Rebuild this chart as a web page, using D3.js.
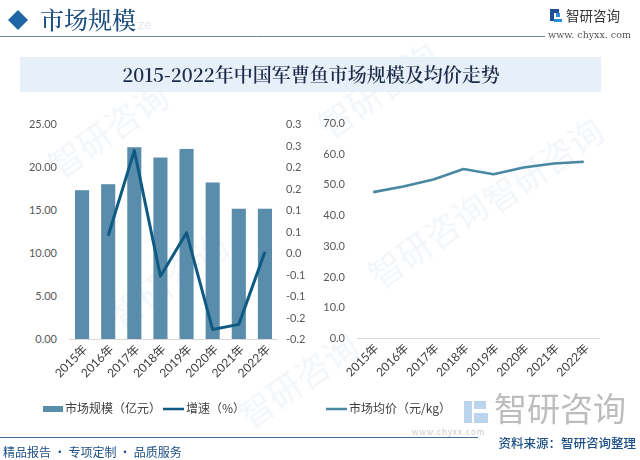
<!DOCTYPE html>
<html>
<head>
<meta charset="utf-8">
<script src="https://cdn.jsdelivr.net/npm/d3@7"></script>
<style>
  body { margin: 0; background: #fff; }
  svg { display: block; font-family: Lato, "Noto Sans CJK SC", sans-serif; }
</style>
</head>
<body>
<svg width="640" height="460"></svg>
<script>
// chart data
var years = ["2015年", "2016年", "2017年", "2018年", "2019年", "2020年", "2021年", "2022年"];
var marketSize = [17.3, 18.0, 22.3, 21.1, 22.1, 18.2, 15.15, 15.15];
var growth = [null, 0.04, 0.238, -0.054, 0.047, -0.178, -0.166, 0.003];
var avgPrice = [47.5, 49.3, 51.6, 55.0, 53.3, 55.5, 56.8, 57.4];
var sizeTicks = [0, 5, 10, 15, 20, 25];
var growthTicks = d3.range(-0.2, 0.3001, 0.05);
var growthTickLabels = ["-0.2", "-0.2", "-0.1", "-0.1", "0.0", "0.1", "0.1", "0.2", "0.2", "0.3", "0.3"];
var priceTicks = [0, 10, 20, 30, 40, 50, 60, 70];

var svg = d3.select("svg");
var cjk = "'Noto Sans CJK SC', sans-serif";

// faint watermarks
var wm = svg.append("g").attr("fill", "#dfe8f1").attr("opacity", 0.4)
  .style("font-family", cjk).style("font-size", "34px");
[[60, 180], [330, 140], [120, 330], [380, 290], [495, 215], [250, 430]].forEach(function(p) {
  wm.append("text").attr("transform", "translate(" + p[0] + "," + p[1] + ") rotate(-35)")
    .text("智研咨询");
});

// header
svg.append("path").attr("d", "M8,20 L18,10 L28,20 L18,30 Z").attr("fill", "#1f64a4");
svg.append("text").attr("x", 40).attr("y", 29).text("市场规模")
  .attr("fill", "#1d4f80").style("font-family", "'Noto Serif CJK SC', " + cjk)
  .style("font-size", "24px").style("font-weight", 500);
svg.append("text").attr("x", 138).attr("y", 29).text("ze").attr("fill", "#e3e8ee")
  .style("font-size", "14px");
svg.append("line").attr("x1", 0).attr("x2", 545).attr("y1", 36.5).attr("y2", 36.5)
  .attr("stroke", "#6f86a0").attr("stroke-width", 1);

// logo
var logo = svg.append("g").attr("transform", "translate(550,9)");
logo.append("rect").attr("x", 0).attr("y", 0).attr("width", 4).attr("height", 12).attr("fill", "#1f4e96");
logo.append("rect").attr("x", 0).attr("y", 0).attr("width", 9).attr("height", 4).attr("fill", "#1f4e96");
logo.append("rect").attr("x", 6).attr("y", 4).attr("width", 4).attr("height", 4).attr("fill", "#2a8fd8");
logo.append("rect").attr("x", 4).attr("y", 10).attr("width", 8).attr("height", 3).attr("fill", "#2a8fd8");
svg.append("text").attr("x", 566).attr("y", 21).text("智研咨询").attr("fill", "#333")
  .style("font-family", cjk).style("font-size", "13.5px");
svg.append("text").attr("x", 548).attr("y", 38).text("www. chyxx. com").attr("fill", "#555")
  .style("font-family", "'DejaVu Serif', serif").style("font-size", "9.5px");

// title band
svg.append("rect").attr("x", 20).attr("y", 57).attr("width", 581).attr("height", 35)
  .attr("fill", "#e7f0f8");
svg.append("text").attr("x", 311).attr("y", 82).attr("text-anchor", "middle")
  .text("2015-2022年中国军曹鱼市场规模及均价走势").attr("fill", "#1b2b49")
  .style("font-family", "'Noto Serif CJK SC', " + cjk).style("font-size", "19px").style("font-weight", 600);

// ---- left chart: bars + growth line
var x1 = d3.scaleBand().domain(years).range([69, 278]).paddingInner(0.46).paddingOuter(0.23);
var ySize = d3.scaleLinear().domain([0, 25]).range([339, 124]);
var yGrowth = d3.scaleLinear().domain([-0.2, 0.3]).range([339, 124]);

var leftAxis = svg.append("g").attr("transform", "translate(57,0)")
  .call(d3.axisLeft(ySize).tickValues(sizeTicks).tickFormat(d3.format(".2f")).tickSize(0).tickPadding(0));
var rightAxis = svg.append("g").attr("transform", "translate(286,0)")
  .call(d3.axisRight(yGrowth).tickValues(growthTicks)
    .tickFormat(function(d, i) { return growthTickLabels[i]; }).tickSize(0).tickPadding(0));

svg.append("g").selectAll("rect").data(marketSize).join("rect")
  .attr("x", function(d, i) { return x1(years[i]); })
  .attr("y", function(d) { return ySize(d); })
  .attr("width", x1.bandwidth())
  .attr("height", function(d) { return ySize(0) - ySize(d); })
  .attr("fill", "#5a8dab");

svg.append("line").attr("x1", 69).attr("x2", 278).attr("y1", 339.5).attr("y2", 339.5)
  .attr("stroke", "#d9d9d9");

var gLine = d3.line()
  .defined(function(d) { return d !== null; })
  .x(function(d, i) { return x1(years[i]) + x1.bandwidth() / 2; })
  .y(function(d) { return yGrowth(d); });
svg.append("path").datum(growth).attr("d", gLine).attr("fill", "none")
  .attr("stroke", "#0f5a82").attr("stroke-width", 3).attr("stroke-linejoin", "round");

var bottom1 = svg.append("g").attr("transform", "translate(0,339)")
  .call(d3.axisBottom(x1).tickSize(0).tickPadding(0));

// ---- right chart: price line
var x2 = d3.scaleBand().domain(years).range([357, 600]).paddingInner(0).paddingOuter(0.04);
var yPrice = d3.scaleLinear().domain([0, 70]).range([338, 123]);

var priceAxis = svg.append("g").attr("transform", "translate(345,0)")
  .call(d3.axisLeft(yPrice).tickValues(priceTicks).tickFormat(d3.format(".1f")).tickSize(0).tickPadding(0));

svg.append("line").attr("x1", 357).attr("x2", 600).attr("y1", 338.5).attr("y2", 338.5)
  .attr("stroke", "#d9d9d9");

var pLine = d3.line()
  .x(function(d, i) { return x2(years[i]) + x2.bandwidth() / 2; })
  .y(function(d) { return yPrice(d); });
svg.append("path").datum(avgPrice).attr("d", pLine).attr("fill", "none")
  .attr("stroke", "#4a87a3").attr("stroke-width", 2.6).attr("stroke-linejoin", "round");

var bottom2 = svg.append("g").attr("transform", "translate(0,338)")
  .call(d3.axisBottom(x2).tickSize(0).tickPadding(0));

// axis styling
[leftAxis, rightAxis, priceAxis, bottom1, bottom2].forEach(function(a) {
  a.select(".domain").remove();
  a.selectAll("text").attr("fill", "#595959").style("font-family", "Lato, 'Noto Sans CJK SC', sans-serif")
    .style("font-size", "11px");
});
[bottom1, bottom2].forEach(function(a) {
  a.selectAll("text")
    .attr("text-anchor", "end")
    .attr("dy", 0)
    .attr("transform", "translate(6,11) rotate(-45)")
    .attr("fill", "#404040")
    .style("font-size", "12px");
});

// legends
var leg = svg.append("g").style("font-family", cjk).style("font-size", "12px").attr("fill", "#404040");
leg.append("rect").attr("x", 43).attr("y", 406).attr("width", 20).attr("height", 6).attr("fill", "#5a8dab");
leg.append("text").attr("x", 65).attr("y", 413).text("市场规模（亿元）");
leg.append("line").attr("x1", 163).attr("x2", 184).attr("y1", 409).attr("y2", 409)
  .attr("stroke", "#0f5a82").attr("stroke-width", 2.5);
leg.append("text").attr("x", 186).attr("y", 413).text("增速（%）");

// big watermark bottom right
svg.append("rect").attr("x", 464).attr("y", 401).attr("width", 8).attr("height", 22).attr("fill", "#9cc3e6").attr("opacity", 0.7);
svg.append("rect").attr("x", 474).attr("y", 401).attr("width", 12).attr("height", 8).attr("fill", "#9cc3e6").attr("opacity", 0.7);
svg.append("rect").attr("x", 474).attr("y", 413).attr("width", 14).attr("height", 10).attr("fill", "#9cc3e6").attr("opacity", 0.7);
svg.append("text").attr("x", 494).attr("y", 421).text("智研咨询").attr("fill", "#bdbdbd")
  .style("font-family", cjk).style("font-size", "33px");
svg.append("text").attr("x", 412).attr("y", 435).text("www.chyxx.com").attr("fill", "#c8c8c8")
  .style("font-family", cjk).style("font-size", "8px").attr("letter-spacing", "1px");

leg.append("line").attr("x1", 326).attr("x2", 347).attr("y1", 409).attr("y2", 409)
  .attr("stroke", "#4a87a3").attr("stroke-width", 2.5);
leg.append("text").attr("x", 349).attr("y", 413).text("市场均价（元/kg）");

// footer
svg.append("line").attr("x1", 0).attr("x2", 478).attr("y1", 437.5).attr("y2", 437.5)
  .attr("stroke", "#3f6f9a").attr("stroke-width", 1.2);
svg.append("text").attr("x", 636).attr("y", 448).attr("text-anchor", "end").text("资料来源：智研咨询整理")
  .attr("fill", "#1d4f86").style("font-family", cjk).style("font-size", "12.5px").style("font-weight", 500);
svg.append("text").attr("x", 3).attr("y", 457).text("精品报告 · 专项定制 · 品质服务")
  .attr("fill", "#1d4f86").style("font-family", cjk).style("font-size", "12px");
</script>
</body>
</html>
